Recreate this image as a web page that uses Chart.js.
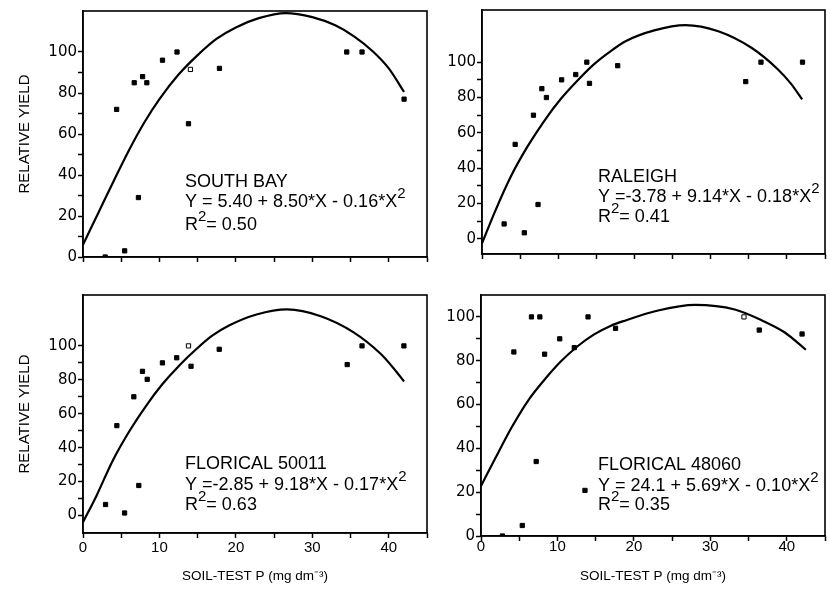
<!DOCTYPE html>
<html><head><meta charset="utf-8">
<script src="https://cdn.jsdelivr.net/npm/chart.js@4.4.1/dist/chart.umd.min.js"></script>
<style>
html,body{margin:0;padding:0;background:#fff;width:830px;height:595px;overflow:hidden;}
.p{position:absolute;}
canvas{display:block;}
</style></head><body>
<div class="p" style="left:0px;top:0px;"><canvas id="c0" width="432" height="285"></canvas></div>
<div class="p" style="left:432px;top:0px;"><canvas id="c1" width="398" height="285"></canvas></div>
<div class="p" style="left:0px;top:285px;"><canvas id="c2" width="432" height="310"></canvas></div>
<div class="p" style="left:432px;top:285px;"><canvas id="c3" width="398" height="310"></canvas></div>
<script>
// ---------- DATA ----------
const siteNames = ["SOUTH BAY", "RALEIGH", "FLORICAL 50011", "FLORICAL 48060"];
const equations = ["Y = 5.40 + 8.50*X - 0.16*X", "Y =-3.78 + 9.14*X - 0.18*X", "Y =-2.85 + 9.18*X - 0.17*X", "Y = 24.1 + 5.69*X - 0.10*X"];
const rSquared = ["0.50", "0.41", "0.63", "0.35"];

const xTickValues = [0, 5, 10, 15, 20, 25, 30, 35, 40, 45];
const xTickLabels = [0, 10, 20, 30, 40];
const yTickValues = [0, 10, 20, 30, 40, 50, 60, 70, 80, 90, 100];
const yTickLabels = [0, 20, 40, 60, 80, 100];
const yTitle = "RELATIVE YIELD";
const xTitle = "SOIL-TEST P (mg dm\u207B\u00B3)";

// South Bay
const sbX = [2.9, 4.4, 5.45, 6.7, 7.25, 7.8, 8.35, 10.4, 12.3, 13.8, 14.05, 17.85, 34.5, 36.5, 42.0];
const sbY = [0, 72, 3, 85, 29, 88, 85, 96, 100, 65, 91.5, 92, 100, 100, 77];
const sbCurveX = [0, 2, 4, 6, 8, 10, 12.5, 15, 17.5, 20, 23, 26.5, 30, 33, 35.5, 38, 40, 42];
const sbCurveY = [6, 21.5, 37, 52, 65.5, 77, 89, 98.5, 106.5, 112, 116.5, 119, 117, 113, 107.5, 100, 92, 80.5];

// Raleigh
const raX = [2.9, 4.35, 5.55, 6.75, 7.35, 7.85, 8.45, 10.45, 12.3, 13.75, 14.1, 17.8, 34.6, 36.6, 42.05];
const raY = [8.5, 53.5, 3.5, 70, 19.5, 85, 80, 90, 93, 100, 88, 98, 89, 100, 100];
const raCurveX = [0, 1.7, 3.8, 6, 8.2, 10.3, 12.5, 14.6, 16.8, 18.9, 22.6, 26.7, 31, 35.4, 38.8, 40.5, 42];
const raCurveY = [-2.5, 15.5, 35.5, 52.5, 67, 79, 89.5, 98.5, 106, 112, 118, 121, 117.5, 108, 96, 88, 79];

// Florical 50011
const f1X = [2.95, 4.43, 5.44, 6.65, 7.3, 7.78, 8.4, 10.39, 12.26, 13.8, 14.13, 17.82, 34.56, 36.5, 41.98];
const f1Y = [6.5, 53, 1.5, 70, 17.7, 85, 80.3, 90, 93, 100, 88, 98, 89, 100, 100];
const f1CurveX = [0, 1.8, 3.9, 6.1, 8.3, 10.4, 12.6, 14.8, 16.9, 19.1, 22.7, 26.7, 31.1, 35.4, 38.9, 40.6, 42];
const f1CurveY = [-4, 12, 32.5, 50, 65, 77.5, 88.5, 98, 106, 112, 118.5, 121.5, 117.5, 108, 95.5, 87, 79];

// Florical 48060
const f2X = [2.8, 4.3, 5.4, 6.6, 7.22, 7.7, 8.32, 10.3, 12.2, 13.6, 14.0, 17.6, 34.4, 36.4, 42.0];
const f2Y = [0, 84, 4.8, 100, 34, 100, 83, 90, 86, 20.8, 100, 94.8, 100, 94, 92.2];
const f2CurveX = [0, 1.8, 4, 6.1, 8.3, 10.4, 12.6, 14.8, 17, 19, 22.9, 28, 33.2, 36.7, 39.7, 42.5];
const f2CurveY = [22.8, 35, 49.5, 61.5, 71.3, 79.5, 86.5, 92, 96, 98.5, 102.7, 105.5, 103.4, 98.5, 93, 85];

// ---------- LAYOUT ----------
const panels = [
  {id:'c0', ox:0, oy:0, px:sbX, py:sbY, cx:sbCurveX, cy:sbCurveY, hollow:[10], ymin:0, ymax:120,
   yW:83, xH:28, pad:{top:11,right:4,left:0,bottom:0}, yTitle:true, xLabels:false, xPad:1,
   anno:{x:185, y:[187,207,230]}},
  {id:'c1', ox:432, oy:0, px:raX, py:raY, cx:raCurveX, cy:raCurveY, hollow:[], ymin:-8.5, ymax:129.5,
   yW:50, xH:31, pad:{top:8,right:1,left:0,bottom:0}, yTitle:false, xLabels:false, xPad:1,
   anno:{x:598, y:[182,202,222]}},
  {id:'c2', ox:0, oy:285, px:f1X, py:f1Y, cx:f1CurveX, cy:f1CurveY, hollow:[9], ymin:-10.3, ymax:130,
   yW:83, xH:62, pad:{top:3,right:4,left:0,bottom:0}, yTitle:true, xLabels:true, xPad:1,
   anno:{x:185, y:[469,490,510]}},
  {id:'c3', ox:432, oy:285, px:f2X, py:f2Y, cx:f2CurveX, cy:f2CurveY, hollow:[12], ymin:0, ymax:110,
   yW:49, xH:59, pad:{top:5,right:1,left:0,bottom:0}, yTitle:false, xLabels:true, xPad:-3,
   anno:{x:598, y:[470,490.5,510]}}
];

const FONT = "'Liberation Sans', Arial, Helvetica, sans-serif";

function drawParts(ctx, x, y, parts) {
  let cx = x;
  for (const [t, sup] of parts) {
    ctx.font = (sup ? '15px ' : '18px ') + FONT;
    ctx.fillText(t, cx, sup ? y - 9 : y);
    cx += ctx.measureText(t).width;
  }
}

panels.forEach((p, i) => {
  const framePlugin = {
    id: 'frame' + i,
    afterDatasetsDraw(chart) {
      const {ctx, chartArea: a} = chart;
      ctx.save();
      ctx.strokeStyle = '#000';
      ctx.lineWidth = 1.6;
      ctx.strokeRect(a.left, a.top, a.right - a.left, a.bottom - a.top);
      ctx.fillStyle = '#000';
      ctx.textBaseline = 'alphabetic';
      ctx.textAlign = 'left';
      const ax = p.anno.x - p.ox;
      const ay = p.anno.y.map(v => v - p.oy);
      drawParts(ctx, ax, ay[0], [[siteNames[i], false]]);
      drawParts(ctx, ax, ay[1], [[equations[i], false], ['2', true]]);
      drawParts(ctx, ax, ay[2], [['R', false], ['2', true], ['= ' + rSquared[i], false]]);
      ctx.restore();
    }
  };
  const pts = p.px.map((x, k) => ({x: x, y: p.py[k]}));
  const curve = p.cx.map((x, k) => ({x: x, y: p.cy[k]}));
  new Chart(document.getElementById(p.id), {
    type: 'scatter',
    data: {
      datasets: [
        {data: curve, showLine: true, borderColor: '#000', borderWidth: 2.2,
         cubicInterpolationMode: 'monotone', pointRadius: 0, fill: false},
        {data: pts, showLine: false, pointStyle: 'rect', pointRadius: 3,
         pointBackgroundColor: pts.map((_, k) => p.hollow.includes(k) ? '#fff' : '#000'),
         pointBorderColor: '#000', pointBorderWidth: 1}
      ]
    },
    options: {
      responsive: false, animation: false, devicePixelRatio: 1,
      layout: {padding: p.pad},
      plugins: {legend: {display: false}, tooltip: {enabled: false}},
      scales: {
        x: {
          type: 'linear', min: 0, max: 45,
          afterBuildTicks: s => { s.ticks = xTickValues.map(v => ({value: v})); },
          afterFit: s => { s.height = p.xH; },
          grid: {drawOnChartArea: false, drawTicks: true, tickLength: 5, tickWidth: 1.5, tickColor: '#000'},
          border: {display: true, color: '#000', width: 1.5},
          ticks: {autoSkip: false, maxRotation: 0, color: '#000', padding: p.xPad,
                  font: {family: FONT, size: 15},
                  callback: v => (p.xLabels && xTickLabels.includes(v)) ? String(v) : ''},
          title: {display: p.xLabels, text: xTitle, color: '#000',
                  font: {family: FONT, size: 13.5}, padding: {top: 0, bottom: 11}}
        },
        y: {
          type: 'linear', min: p.ymin, max: p.ymax,
          afterBuildTicks: s => { s.ticks = yTickValues.map(v => ({value: v})); },
          afterFit: s => { s.width = p.yW; },
          grid: {drawOnChartArea: false, drawTicks: true, tickLength: 5, tickWidth: 1.5, tickColor: '#000'},
          border: {display: true, color: '#000', width: 1.5},
          ticks: {autoSkip: false, color: '#000', padding: 1,
                  font: {family: "'DejaVu Sans', sans-serif", size: 15},
                  callback: v => yTickLabels.includes(v) ? String(v) : ''},
          title: {display: p.yTitle, text: yTitle, color: '#000',
                  font: {family: FONT, size: 15}, padding: {top: 16, bottom: 0}}
        }
      }
    },
    plugins: [framePlugin]
  });
});
</script>
</body></html>
